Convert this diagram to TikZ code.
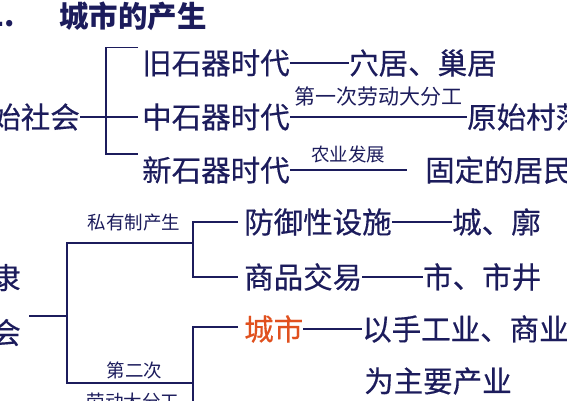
\documentclass[tikz,border=0pt]{standalone}
\usepackage{fontspec}
\newfontfamily\cjk{Noto Sans CJK SC}
\newfontfamily\cjkm{Noto Sans CJK SC}[FakeBold=0.4]
\usepackage{xcolor}
\definecolor{ink}{RGB}{28,28,92}
\definecolor{hot}{RGB}{224,80,30}
\begin{document}
\begin{tikzpicture}[
            x=1pt, y=-1pt,
            big/.style={font=\cjkm\fontsize{29.5}{55}\selectfont, text=ink, inner sep=0pt, anchor=west},
            head/.style={font=\cjk\bfseries\fontsize{29.5}{30}\selectfont, text=ink, inner sep=0pt, anchor=west},
            tag/.style={font=\cjk\fontsize{18.5}{20}\selectfont, text=ink, inner sep=0pt},
            link/.style={draw=ink, line width=1.3pt},
        ]
            \useasboundingbox (0,0) rectangle (567,400);
            \clip (0,0) rectangle (567,400);

            %% title
            \node[head, anchor=east] (num) at (15,16) {1.};
            \node[head] (title) at (59,16) {城市的产生};

            %% primitive society
            \node[big, anchor=east] (yuanshi) at (80,117) {原始社会};
            \node[big] (jiu) at (142,63) {旧石器时代};
            \node[big] (xueju) at (349,63) {穴居、巢居};
            \node[big] (zhong) at (142,117) {中石器时代};
            \node[big] (cunluo) at (467,117) {原始村落};
            \node[big] (xin) at (142,170) {新石器时代};
            \node[big] (guding) at (425,170) {固定的居民};
            \coordinate (fork1) at (106,117);
            \coordinate (nyend) at (407,171);

            \draw[link] (yuanshi) -- ([xshift=-4pt]zhong.west);
            \draw[link] ([xshift=-4pt, yshift=2pt]jiu.north west) -| (fork1)
                |- ([xshift=-4pt, yshift=2pt]xin.north west);
            \draw[link] (jiu) -- (xueju);
            \draw[link] (zhong) -- (cunluo)
                node[tag, midway, above=10pt, font=\cjk\fontsize{21}{22}\selectfont] (fengong1) {第一次劳动大分工};
            \draw[link] (xin.east) -- (xin.east -| nyend)
                node[tag, midway, above=6pt] (nongye) {农业发展};

            %% slave society
            \node[big, align=right, anchor=east] (nuli) at (21,305) {奴隶\\社会};
            \node[big] (fangyu) at (244,222) {防御性设施};
            \node[big] (cheng) at (452,222) {城、廓};
            \node[big] (shangpin) at (244,277) {商品交易};
            \node[big] (shi) at (423,277) {市、市井};
            \node[big, text=hot] (chengshi) at (244,329) {城市};
            \node[big] (yishou) at (362,329) {以手工业、商业};
            \node[big] (wei) at (364,381) {为主要产业};
            \coordinate (fork2) at (67,316);
            \coordinate (fork3) at (193,250);
            \coordinate (fork4) at (193,327);
            \coordinate (priv) at (193,243);
            \coordinate (second) at (193,383);
            \coordinate (down) at (193,405);

            \draw[link] (fangyu) -- (cheng);
            \draw[link] (shangpin) -- (shi);
            \draw[link] (chengshi) -- (yishou);
            \draw[link] ([xshift=8pt]nuli.east |- fork2) -- (fork2);
            \draw[link] (priv) -| (fork2) |- (second);
            \draw[link] ([xshift=-6pt]fangyu.west) -| (fork3) |- ([xshift=-6pt]shangpin.west);
            \draw[link] ([xshift=-6pt]chengshi.west |- fork4) -| (down);

            \node[tag] (siyou) at (134,223) {私有制产生};
            \node[tag] (dierci) at (134.5,370) {第二次};
            \node[tag] (laodong) at (133,401) {劳动大分工};
        \end{tikzpicture}
\end{document}
